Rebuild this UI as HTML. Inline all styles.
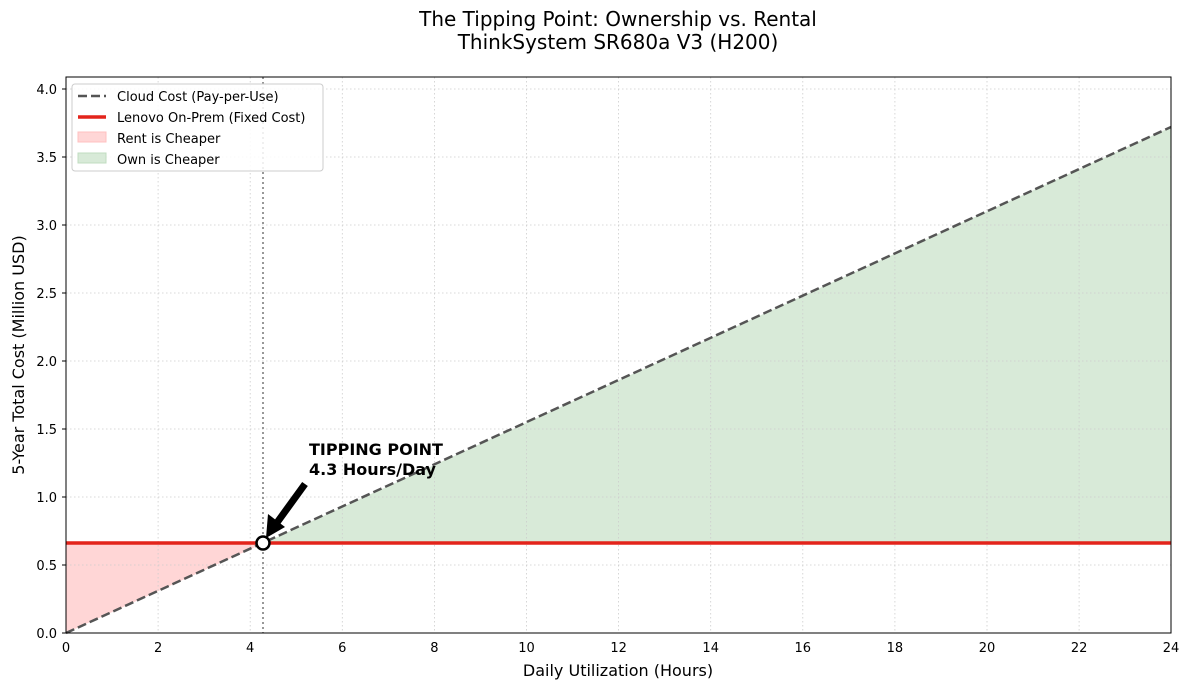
<!DOCTYPE html><html><head><style>body{margin:0;background:#fff}svg{display:block;font-family:"DejaVu Sans","Liberation Sans",sans-serif}</style></head><body>
<svg width="1189" height="690" xmlns="http://www.w3.org/2000/svg">
<text x="618" y="26" font-size="20" text-anchor="middle">The Tipping Point: Ownership vs. Rental</text>
<text x="618" y="49" font-size="20" text-anchor="middle">ThinkSystem SR680a V3 (H200)</text>
<polygon points="66,633 264,543 66,543" fill="#ffd6d6"/>
<polygon points="264,543 1171,127 1171,543" fill="#d8ead8"/>
<g stroke="#ccc" stroke-width="0.8" stroke-dasharray="1.5,2.5">
<line x1="158.1" y1="77" x2="158.1" y2="633"/><line x1="250.2" y1="77" x2="250.2" y2="633"/><line x1="342.3" y1="77" x2="342.3" y2="633"/><line x1="434.4" y1="77" x2="434.4" y2="633"/><line x1="526.5" y1="77" x2="526.5" y2="633"/><line x1="618.6" y1="77" x2="618.6" y2="633"/><line x1="710.7" y1="77" x2="710.7" y2="633"/><line x1="802.8" y1="77" x2="802.8" y2="633"/><line x1="894.9" y1="77" x2="894.9" y2="633"/><line x1="987" y1="77" x2="987" y2="633"/><line x1="1079.1" y1="77" x2="1079.1" y2="633"/>
<line x1="66" y1="565" x2="1171" y2="565"/><line x1="66" y1="497" x2="1171" y2="497"/><line x1="66" y1="429" x2="1171" y2="429"/><line x1="66" y1="361" x2="1171" y2="361"/><line x1="66" y1="293" x2="1171" y2="293"/><line x1="66" y1="225" x2="1171" y2="225"/><line x1="66" y1="157" x2="1171" y2="157"/><line x1="66" y1="89" x2="1171" y2="89"/>
</g>
<line x1="263" y1="77" x2="263" y2="633" stroke="#777" stroke-width="1.5" stroke-dasharray="2,3"/>
<line x1="66" y1="543" x2="1171" y2="543" stroke="#e3241b" stroke-width="3.5"/>
<line x1="66" y1="633" x2="1171" y2="127" stroke="#555" stroke-width="2.5" stroke-dasharray="9,4"/>
<line x1="305" y1="484" x2="276" y2="524" stroke="#000" stroke-width="7"/>
<polygon points="266,538 268,514 285,527" fill="#000"/>
<circle cx="263" cy="543" r="6.5" fill="#fff" stroke="#000" stroke-width="2.5"/>
<text x="309" y="455" font-size="16" font-weight="bold">TIPPING POINT</text>
<text x="309" y="475" font-size="16" font-weight="bold">4.3 Hours/Day</text>
<rect x="66" y="77" width="1105" height="556" fill="none" stroke="#000" stroke-width="1"/>
<g font-size="13" text-anchor="middle">
<text x="66" y="652">0</text><text x="158.1" y="652">2</text><text x="250.2" y="652">4</text><text x="342.3" y="652">6</text><text x="434.4" y="652">8</text><text x="526.5" y="652">10</text><text x="618.6" y="652">12</text><text x="710.7" y="652">14</text><text x="802.8" y="652">16</text><text x="894.9" y="652">18</text><text x="987" y="652">20</text><text x="1079.1" y="652">22</text><text x="1171" y="652">24</text>
</g>
<g font-size="13" text-anchor="end">
<text x="57" y="638">0.0</text><text x="57" y="570">0.5</text><text x="57" y="502">1.0</text><text x="57" y="434">1.5</text><text x="57" y="366">2.0</text><text x="57" y="298">2.5</text><text x="57" y="230">3.0</text><text x="57" y="162">3.5</text><text x="57" y="94">4.0</text>
</g>
<g stroke="#000"><line x1="62" y1="633" x2="66" y2="633"/><line x1="62" y1="565" x2="66" y2="565"/><line x1="62" y1="497" x2="66" y2="497"/><line x1="62" y1="429" x2="66" y2="429"/><line x1="62" y1="361" x2="66" y2="361"/><line x1="62" y1="293" x2="66" y2="293"/><line x1="62" y1="225" x2="66" y2="225"/><line x1="62" y1="157" x2="66" y2="157"/><line x1="62" y1="89" x2="66" y2="89"/></g>
<text x="618" y="676" font-size="16" text-anchor="middle">Daily Utilization (Hours)</text>
<text transform="translate(24,355) rotate(-90)" font-size="16" text-anchor="middle">5-Year Total Cost (Million USD)</text>
<rect x="72" y="84" width="251" height="87" rx="3" fill="#fff" fill-opacity="0.85" stroke="#ccc"/>
<line x1="78" y1="96" x2="106" y2="96" stroke="#555" stroke-width="2.5" stroke-dasharray="9,4"/>
<line x1="78" y1="117" x2="106" y2="117" stroke="#e3241b" stroke-width="3.5"/>
<rect x="78" y="132" width="28" height="10" fill="#ffd6d6" stroke="#ffc0c0"/>
<rect x="78" y="153" width="28" height="10" fill="#d8ead8" stroke="#c0dcc0"/>
<g font-size="13"><text x="117" y="101">Cloud Cost (Pay-per-Use)</text><text x="117" y="122">Lenovo On-Prem (Fixed Cost)</text><text x="117" y="143">Rent is Cheaper</text><text x="117" y="164">Own is Cheaper</text></g>
</svg></body></html>
